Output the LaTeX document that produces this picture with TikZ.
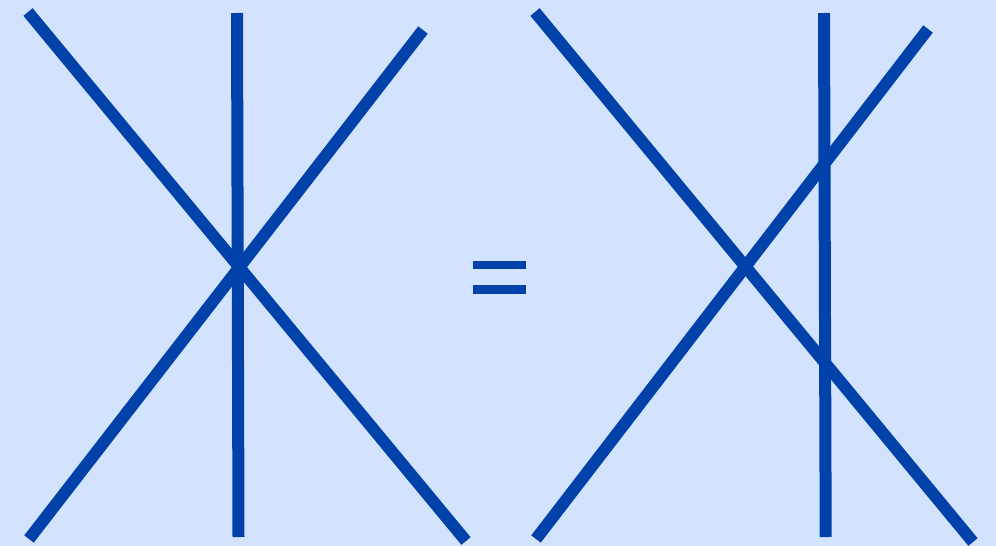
\documentclass[tikz,border=0pt]{standalone}
\definecolor{bgblue}{RGB}{211,227,253}
\definecolor{lineblue}{RGB}{0,65,170}
\begin{document}
\begin{tikzpicture}[x=1pt,y=-1pt,
  strand/.style={draw=lineblue,line width=12pt,line cap=butt},
  bar/.style={fill=lineblue,draw=none}]
\fill[bgblue] (0,0) rectangle (996,546);
\useasboundingbox (0,0) rectangle (996,546);
% left
\coordinate (a1) at (28,12);   \coordinate (a2) at (466,541);
\coordinate (b1) at (237,13);  \coordinate (b2) at (238.5,537);
\coordinate (c1) at (423,30);  \coordinate (c2) at (29,539);
\draw[strand] (a1) -- (a2);
\draw[strand] (b1) -- (b2);
\draw[strand] (c1) -- (c2);
% equals
\fill[bar] (472.5,260.7) rectangle (525.5,269.3);
\fill[bar] (472.5,285) rectangle (525.5,294);
% right
\coordinate (d1) at (535,12);  \coordinate (d2) at (973,542);
\coordinate (e1) at (824,13);  \coordinate (e2) at (825.7,537);
\coordinate (f1) at (928,29);  \coordinate (f2) at (536,539);
\draw[strand] (d1) -- (d2);
\draw[strand] (e1) -- (e2);
\draw[strand] (f1) -- (f2);
\end{tikzpicture}
\end{document}
